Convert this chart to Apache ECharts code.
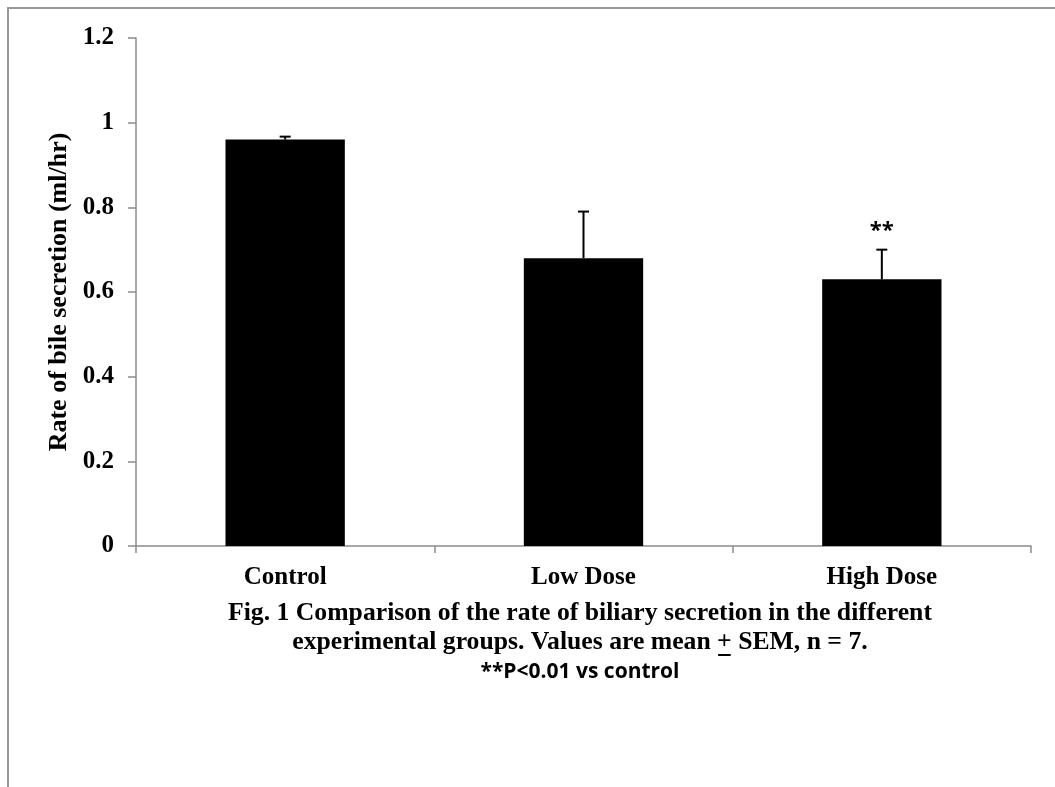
<!DOCTYPE html>
<html>
<head>
<meta charset="utf-8">
<script src="https://cdn.jsdelivr.net/npm/echarts@6/dist/echarts.min.js"></script>
<style>
html,body{margin:0;padding:0;background:#fff;}
#chart{width:1055px;height:787px;}
</style>
</head>
<body>
<div id="chart"></div>
<script>
// ---- data ----
var categories = ['Control', 'Low Dose', 'High Dose'];
var meanValues = [0.96, 0.68, 0.63];
var semValues = [0.007, 0.11, 0.07];
var significance = ['', '', '**'];
var yTicks = [0, 0.2, 0.4, 0.6, 0.8, 1, 1.2];
var yAxisTitle = 'Rate of bile secretion (ml/hr)';
var captionLine1 = 'Fig. 1 Comparison of the rate of biliary secretion in the different';
var captionLine2a = 'experimental groups. Values are mean ';
var captionLine2b = '+';
var captionLine2c = ' SEM, n = 7.';
var captionLine3 = '**P<0.01 vs control';

var serif = "'Liberation Serif','Times New Roman',serif";
var sans = "'Open Sans','Liberation Sans',sans-serif";
var capFont = 'bold 25.7px ' + serif;

var chart = echarts.init(document.getElementById('chart'), null, {renderer: 'canvas'});

var errData = categories.map(function (c, i) {
  return [i, meanValues[i], meanValues[i] + semValues[i]];
});

// measure for underline of '+'
var ctx = document.createElement('canvas').getContext('2d');
ctx.font = capFont;
var wA = ctx.measureText(captionLine2a).width;
var wB = ctx.measureText(captionLine2b).width;
var wC = ctx.measureText(captionLine2c).width;
var total2 = wA + wB + wC;
var capCenterX = 580;
var line2Left = capCenterX - total2 / 2;

var option = {
  backgroundColor: '#fff',
  animation: false,
  grid: {left: 136, right: 24, top: 38, bottom: 241, containLabel: false},
  xAxis: {
    type: 'category',
    data: categories,
    axisLine: {show: true, lineStyle: {color: '#8c8c8c', width: 1.5}},
    axisTick: {show: true, length: 7, alignWithLabel: false, lineStyle: {color: '#8c8c8c', width: 1.5}},
    axisLabel: {color: '#000', fontFamily: serif, fontWeight: 'bold', fontSize: 25, margin: 19},
    splitLine: {show: false}
  },
  yAxis: {
    type: 'value',
    min: 0, max: 1.2, interval: 0.2,
    name: yAxisTitle,
    nameLocation: 'middle',
    nameGap: 64,
    nameRotate: 90,
    nameTextStyle: {color: '#000', fontFamily: serif, fontWeight: 'bold', fontSize: 26},
    axisLine: {show: true, lineStyle: {color: '#8c8c8c', width: 1.5}},
    axisTick: {show: true, length: 8, inside: false, lineStyle: {color: '#8c8c8c', width: 1.5}},
    axisLabel: {
      color: '#000', fontFamily: serif, fontWeight: 'bold', fontSize: 25, margin: 22,
      formatter: function (v) {
        for (var k = 0; k < yTicks.length; k++) {
          if (Math.abs(yTicks[k] - v) < 1e-9) return String(yTicks[k]);
        }
        return '';
      }
    },
    splitLine: {show: false}
  },
  series: [
    {
      type: 'bar',
      data: meanValues,
      barWidth: '40%',
      itemStyle: {color: '#000'},
      z: 2
    },
    {
      type: 'custom',
      data: errData,
      z: 3,
      renderItem: function (params, api) {
        var i = api.value(0);
        var base = api.coord([i, api.value(1)]);
        var top = api.coord([i, api.value(2)]);
        var cap = 5.5;
        var children = [
          {type: 'line', shape: {x1: base[0], y1: base[1], x2: top[0], y2: top[1]}, style: {stroke: '#000', lineWidth: 2}},
          {type: 'line', shape: {x1: top[0] - cap, y1: top[1], x2: top[0] + cap, y2: top[1]}, style: {stroke: '#000', lineWidth: 2}}
        ];
        var sig = significance[params.dataIndex];
        if (sig) {
          children.push({
            type: 'text',
            style: {text: sig, x: top[0], y: top[1] - 19, align: 'center', verticalAlign: 'middle',
              font: 'bold 22px ' + sans, fill: '#000'}
          });
        }
        return {type: 'group', children: children};
      }
    }
  ],
  graphic: [
    {type: 'line', shape: {x1: 7, y1: 8, x2: 1055, y2: 8}, style: {stroke: '#999', lineWidth: 2}, silent: true},
    {type: 'line', shape: {x1: 8, y1: 7, x2: 8, y2: 787}, style: {stroke: '#999', lineWidth: 2}, silent: true},
    {type: 'text', style: {text: captionLine1, x: capCenterX, y: 613, align: 'center', verticalAlign: 'middle',
      font: capFont, fill: '#000'}},
    {type: 'text', style: {text: captionLine2a + captionLine2b + captionLine2c, x: capCenterX, y: 642, align: 'center', verticalAlign: 'middle',
      font: capFont, fill: '#000'}},
    {type: 'line', shape: {x1: line2Left + wA + 1, y1: 655, x2: line2Left + wA + wB - 1, y2: 655}, style: {stroke: '#000', lineWidth: 2}},
    {type: 'text', style: {text: captionLine3, x: capCenterX, y: 672, align: 'center', verticalAlign: 'middle',
      font: 'bold 21px ' + sans, fill: '#000'}}
  ]
};
chart.setOption(option);
</script>
</body>
</html>
